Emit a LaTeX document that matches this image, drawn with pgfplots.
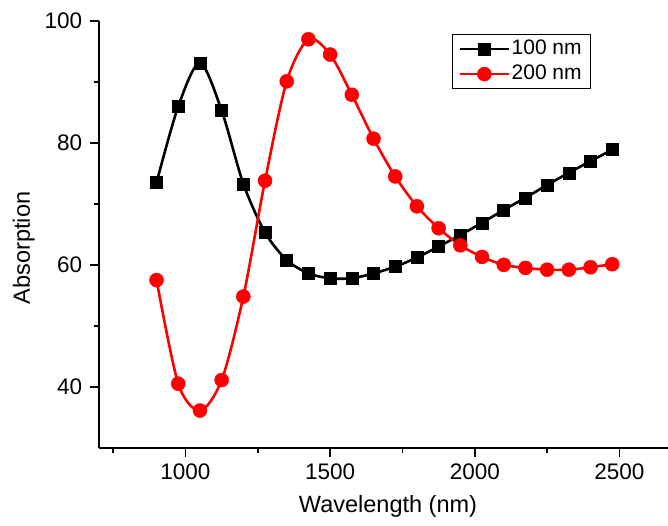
\documentclass[border=0pt]{standalone}
\usepackage{fontspec}
\setmainfont{Liberation Sans}
\usepackage{pgfplots}
\pgfplotsset{compat=1.18}

\begin{document}
\fontsize{22}{26}\selectfont
\begin{tikzpicture}
\begin{axis}[
    name=ax,
    scale only axis,
    width=578.6pt, height=426.7pt,
    xmin=700, xmax=2700, ymin=30, ymax=100,
    axis lines=left,
    axis line style={-, line width=1.8pt},
    every tick/.style={black, line width=1.6pt},
    tick align=outside,
    major tick length=9pt, minor tick length=5pt,
    xtick={1000,1500,2000,2500},
    minor xtick={750,1250,1750,2250,2750},
    ytick={40,60,80,100},
    minor ytick={50,70,90},
    /pgf/number format/assume math mode=true,
    /pgf/number format/1000 sep={},
    ticklabel style={font=\fontsize{22.5}{26}\selectfont},
    xlabel={Wavelength (nm)},
    ylabel={Absorption},
    label style={font=\fontsize{23.5}{27}\selectfont},
    ylabel style={at={(axis description cs:-0.1296,0.468)}, anchor=center},
    legend style={at={(axis description cs:0.610,0.969)}, anchor=north west,
        draw=black, line width=0.8pt, font=\fontsize{21}{24}\selectfont,
        inner xsep=7pt, inner ysep=3.5pt, row sep=3pt},
    legend cell align=left,
    legend image code/.code={\draw[mark repeat=2,mark phase=2,#1] plot coordinates {(0pt,0pt) (24pt,0pt) (48pt,0pt)};},
]
\addplot[black, line width=2.6pt, smooth, mark=square*, mark size=6pt, mark options={solid, line width=0.5pt}] coordinates {
    (900,73.5) (975,86.0) (1050,93.1) (1125,85.3) (1200,73.3) (1275,65.3)
    (1350,60.8) (1425,58.6) (1500,57.8) (1575,57.8) (1650,58.6) (1725,59.7)
    (1800,61.2) (1875,63.0) (1950,64.9) (2025,66.9) (2100,69.0) (2175,71.0)
    (2250,73.1) (2325,75.1) (2400,77.0) (2475,78.9)
};
\addlegendentry{100 nm}
\addplot[red, line width=2.6pt, smooth, mark=*, mark size=7pt, mark options={solid, line width=0.5pt}] coordinates {
    (900,57.5) (975,40.5) (1050,36.1) (1125,41.1) (1200,54.8) (1275,73.8)
    (1350,90.1) (1425,97.0) (1500,94.5) (1575,87.9) (1650,80.7) (1725,74.5)
    (1800,69.6) (1875,66.0) (1950,63.2) (2025,61.3) (2100,60.0) (2175,59.5)
    (2250,59.2) (2325,59.2) (2400,59.6) (2475,60.1)
};
\addlegendentry{200 nm}
\end{axis}
\pgfresetboundingbox
\path[use as bounding box] ([shift={(-98.7pt,-77.3pt)}]ax.south west) rectangle ([shift={(569.3pt,447.7pt)}]ax.south west);
\end{tikzpicture}
\end{document}
